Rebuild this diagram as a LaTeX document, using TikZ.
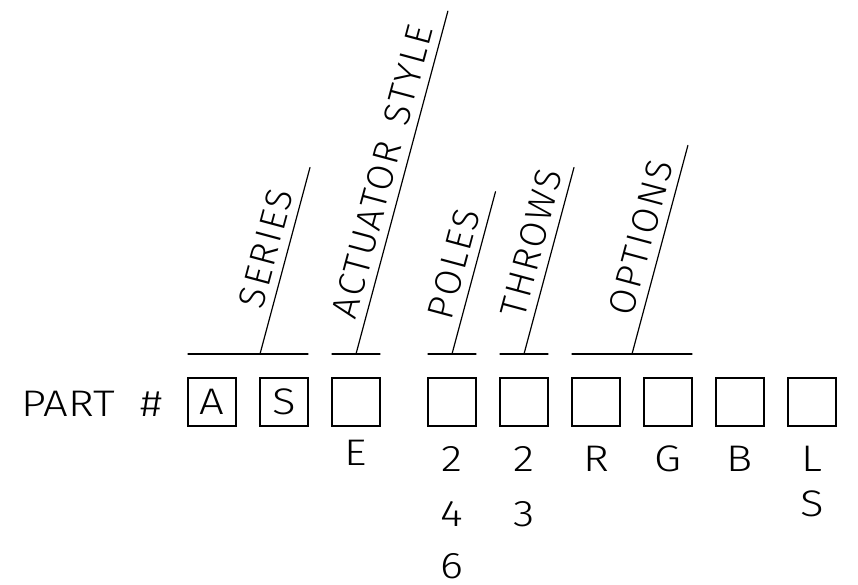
\documentclass[tikz,border=0pt]{standalone}
\usepackage{fontspec}
\setmainfont{Fira Sans Light}
\newfontfamily\widefont{Fira Sans Light}[FakeStretch=1.18]
\newfontfamily\fieldfamily{Fira Sans Light}[LetterSpace=6]
\usetikzlibrary{positioning,calc}
\newcommand{\partfont}{\widefont\fontsize{37}{40}\selectfont}
\newcommand{\fieldfont}{\fieldfamily\fontsize{37}{40}\selectfont}
\tikzset{
  % --- part number boxes ---
  digitbox/.style={draw, line width=1.2pt, minimum size=48pt, inner sep=0pt,
                   outer sep=0pt, font=\partfont},
  % --- code letters under the boxes ---
  codelabel/.style={anchor=base, inner sep=0pt, font=\partfont},
  % --- field brackets and their slanted leaders ---
  fieldline/.style={line width=1.2pt, line cap=round},
  fieldname/.style={sloped, anchor=south, inner xsep=0pt, inner ysep=8pt,
                    font=\fieldfont},
}
\begin{document}
\begin{tikzpicture}[x=1pt, y=1pt]
  \useasboundingbox (0,0) rectangle (858,585);

  % --- row of boxes ---
  \node[digitbox] (b1) at (212,183) {A};
  \node[digitbox, right=24pt of b1] (b2) {S};
  \node[digitbox, right=24pt of b2] (b3) {};
  \node[digitbox, right=48pt of b3] (b4) {};
  \node[digitbox, right=24pt of b4] (b5) {};
  \node[digitbox, right=24pt of b5] (b6) {};
  \node[digitbox, right=24pt of b6] (b7) {};
  \node[digitbox, right=24pt of b7] (b8) {};
  \node[digitbox, right=24pt of b8] (b9) {};
  \node[anchor=base west, inner sep=0pt, font=\partfont] (part) at (21,168)
        {PART\hspace{26pt}\#};

  % --- codes below ---
  \node[codelabel] (ce)  at ([yshift=-64pt]b3.center) {E};
  \node[codelabel] (cp2) at ([yshift=-70pt]b4.center) {2};
  \node[codelabel] (cp4) at ([yshift=-125pt]b4.center) {4};
  \node[codelabel] (cp6) at ([yshift=-177pt]b4.center) {6};
  \node[codelabel] (ct2) at ([yshift=-70pt]b5.center) {2};
  \node[codelabel] (ct3) at ([yshift=-125pt]b5.center) {3};
  \node[codelabel] (cr)  at ([yshift=-70pt]b6.center) {R};
  \node[codelabel] (cg)  at ([yshift=-70pt]b7.center) {G};
  \node[codelabel] (cb)  at ([yshift=-70pt]b8.center) {B};
  \node[codelabel] (cl)  at ([yshift=-70pt]b9.center) {L};
  \node[codelabel] (cs)  at ([yshift=-115pt]b9.center) {S};

  % --- brackets over the fields ---
  \draw[fieldline] ([yshift=24pt]b1.north west) -- ([yshift=24pt]b2.north east);
  \draw[fieldline] ([yshift=24pt]b3.north west) -- ([yshift=24pt]b3.north east);
  \draw[fieldline] ([yshift=24pt]b4.north west) -- ([yshift=24pt]b4.north east);
  \draw[fieldline] ([yshift=24pt]b5.north west) -- ([yshift=24pt]b5.north east);
  \draw[fieldline] ([yshift=24pt]b6.north west) -- ([yshift=24pt]b7.north east);

  \coordinate (series)   at ([yshift=24pt]b2.north west);
  \coordinate (actuator) at ([yshift=48pt]b3.center);
  \coordinate (poles)    at ([yshift=48pt]b4.center);
  \coordinate (throws)   at ([yshift=48pt]b5.center);
  \coordinate (options)  at ($([yshift=24pt]b6.north east)!0.5!([yshift=24pt]b7.north west)$);

  % --- slanted leaders with field names ---
  \draw[fieldline] (series) -- ++(75:193pt)
        node[fieldname, pos=0.536] {SERIES};
  \draw[fieldline] (actuator) -- ++(75:355pt)
        node[fieldname, pos=0.516] {ACTUATOR\hspace{6pt} STYLE};
  \draw[fieldline] (poles) -- ++(75:168pt)
        node[fieldname, pos=0.52] {POLES};
  \draw[fieldline] (throws) -- ++(75:193pt)
        node[fieldname, pos=0.566] {THROWS};
  \draw[fieldline] (options) -- ++(75:216pt)
        node[fieldname, pos=0.532] {OPTIONS};
\end{tikzpicture}
\end{document}
